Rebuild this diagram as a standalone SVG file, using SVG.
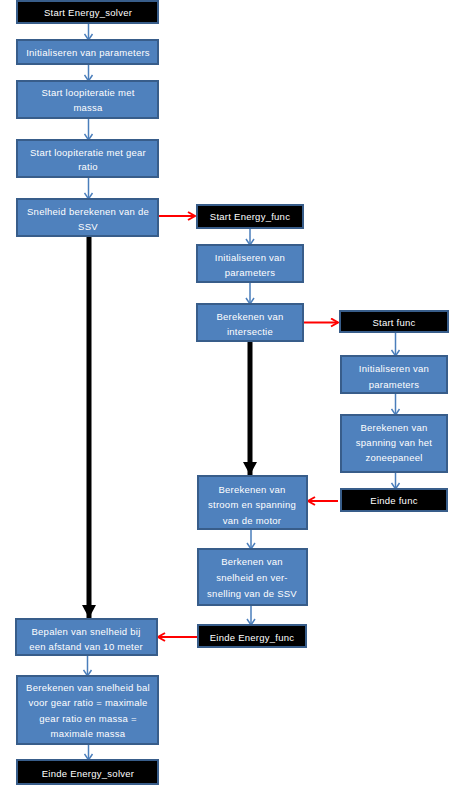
<svg xmlns="http://www.w3.org/2000/svg" width="453" height="788" viewBox="0 0 453 788">
<style>
.b{fill:#4F81BD;stroke:#385D8A;stroke-width:2}
.k{fill:#000000;stroke:#385D8A;stroke-width:2}
text{font-family:"Liberation Sans",Arial,sans-serif;font-size:9.5px;fill:#FFFFFF;text-anchor:middle;letter-spacing:0.25px}
.cb{stroke:#4A7EBB;stroke-width:1.5;fill:none}
.cr{stroke:#FF0000;stroke-width:2;fill:none}
.ck{stroke:#000000;stroke-width:5;fill:none}
</style>
<defs>
<marker id="ab" markerWidth="10" markerHeight="10" refX="7" refY="5" orient="auto" markerUnits="userSpaceOnUse">
<path d="M1,1 L7,5 L1,9" fill="none" stroke="#4A7EBB" stroke-width="1.5"/>
</marker>
<marker id="ar" markerWidth="10" markerHeight="10" refX="8" refY="5" orient="auto" markerUnits="userSpaceOnUse">
<path d="M1,1 L8,5 L1,9" fill="none" stroke="#FF0000" stroke-width="2"/>
</marker>
<marker id="ak" markerWidth="14" markerHeight="14" refX="13" refY="7" orient="auto" markerUnits="userSpaceOnUse">
<path d="M0,0 L13,7 L0,14 Z" fill="#000000"/>
</marker>
</defs>
<g id="connectors">
<line class="cb" x1="88.5" y1="23" x2="88.5" y2="40" marker-end="url(#ab)"/>
<line class="cb" x1="88.5" y1="64" x2="88.5" y2="81" marker-end="url(#ab)"/>
<line class="cb" x1="88.5" y1="118" x2="88.5" y2="140" marker-end="url(#ab)"/>
<line class="cb" x1="88.5" y1="177" x2="88.5" y2="199" marker-end="url(#ab)"/>
<line class="cb" x1="250" y1="228" x2="250" y2="245" marker-end="url(#ab)"/>
<line class="cb" x1="250" y1="282" x2="250" y2="304" marker-end="url(#ab)"/>
<line class="cb" x1="395.5" y1="332" x2="395.5" y2="356" marker-end="url(#ab)"/>
<line class="cb" x1="395.5" y1="393" x2="395.5" y2="415" marker-end="url(#ab)"/>
<line class="cb" x1="395.5" y1="472" x2="395.5" y2="489" marker-end="url(#ab)"/>
<line class="cb" x1="251" y1="529" x2="251" y2="549" marker-end="url(#ab)"/>
<line class="cb" x1="251" y1="605" x2="251" y2="625" marker-end="url(#ab)"/>
<line class="cb" x1="87.5" y1="655" x2="87.5" y2="676" marker-end="url(#ab)"/>
<line class="cb" x1="88.5" y1="744" x2="88.5" y2="760" marker-end="url(#ab)"/>
<line class="cr" x1="159" y1="216" x2="195" y2="216" marker-end="url(#ar)"/>
<line class="cr" x1="304" y1="322.5" x2="338" y2="322.5" marker-end="url(#ar)"/>
<line class="cr" x1="338" y1="501" x2="308" y2="501" marker-end="url(#ar)"/>
<line class="cr" x1="197" y1="637" x2="158" y2="637" marker-end="url(#ar)"/>
<line class="ck" x1="89" y1="236" x2="89" y2="618" marker-end="url(#ak)"/>
<line class="ck" x1="250" y1="341" x2="250" y2="475" marker-end="url(#ak)"/>
</g>
<g id="n1"><rect class="k" x="17" y="1" width="141" height="22"/><text x="88" y="15.5">Start Energy_solver</text></g>
<g id="n2"><rect class="b" x="17" y="40" width="141" height="24"/><text x="88" y="55.5">Initialiseren van parameters</text></g>
<g id="n3"><rect class="b" x="17" y="81" width="141" height="37"/><text x="88" y="96">Start loopiteratie met</text><text x="88" y="111">massa</text></g>
<g id="n4"><rect class="b" x="17" y="140" width="141" height="37"/><text x="88" y="156">Start loopiteratie met gear</text><text x="88" y="170">ratio</text></g>
<g id="n5"><rect class="b" x="17" y="199" width="141" height="37"/><text x="88" y="214.5">Snelheid berekenen van de</text><text x="88" y="229.5">SSV</text></g>
<g id="n6"><rect class="k" x="197" y="205" width="106" height="23"/><text x="250" y="220">Start Energy_func</text></g>
<g id="n7"><rect class="b" x="197" y="245" width="106" height="37"/><text x="250" y="261">Initialiseren van</text><text x="250" y="276">parameters</text></g>
<g id="n8"><rect class="b" x="197" y="304" width="106" height="37"/><text x="250" y="319.5">Berekenen van</text><text x="250" y="334.5">intersectie</text></g>
<g id="n9"><rect class="k" x="340" y="311" width="108" height="21"/><text x="394" y="325.5">Start func</text></g>
<g id="n10"><rect class="b" x="341" y="356" width="106" height="37"/><text x="394" y="371.5">Initialiseren van</text><text x="394" y="387.5">parameters</text></g>
<g id="n11"><rect class="b" x="341" y="415" width="106" height="57"/><text x="394" y="430.5">Berekenen van</text><text x="394" y="446">spanning van het</text><text x="394" y="461">zoneepaneel</text></g>
<g id="n12"><rect class="k" x="341" y="489" width="106" height="22"/><text x="394" y="504">Einde func</text></g>
<g id="n13"><rect class="b" x="198" y="476" width="109" height="53"/><text x="252" y="492.5">Berekenen van</text><text x="252" y="508">stroom en spanning</text><text x="252" y="523.5">van de motor</text></g>
<g id="n14"><rect class="b" x="198" y="549" width="109" height="56"/><text x="252" y="565">Berkenen van</text><text x="252" y="581">snelheid en ver-</text><text x="252" y="596.5">snelling van de SSV</text></g>
<g id="n15"><rect class="k" x="198" y="625" width="108" height="22"/><text x="252" y="640.5">Einde Energy_func</text></g>
<g id="n16"><rect class="b" x="16" y="619" width="141" height="36"/><text x="86" y="634.5">Bepalen van snelheid bij</text><text x="86" y="649.5">een afstand van 10 meter</text></g>
<g id="n17"><rect class="b" x="17" y="676" width="141" height="68"/><text x="88" y="690.5">Berekenen van snelheid bal</text><text x="88" y="706">voor gear ratio = maximale</text><text x="88" y="721.5">gear ratio en massa =</text><text x="88" y="737">maximale massa</text></g>
<g id="n18"><rect class="k" x="17" y="760" width="141" height="24"/><text x="88" y="776.5">Einde Energy_solver</text></g>
</svg>
